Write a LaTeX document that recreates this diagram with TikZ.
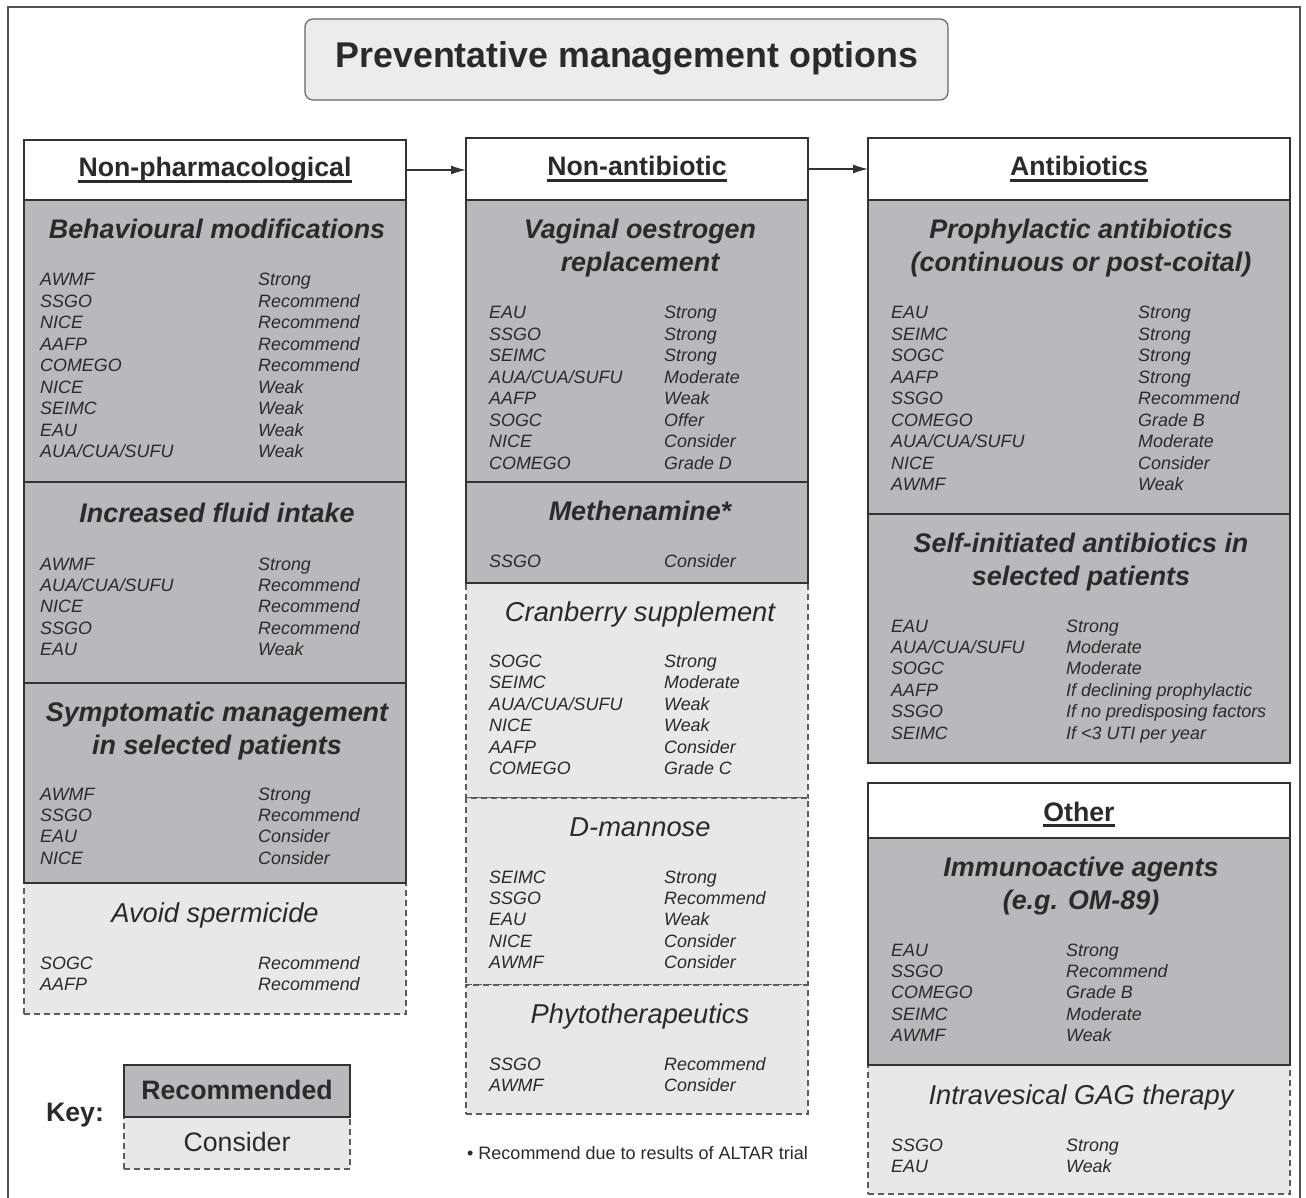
\documentclass[tikz,border=0pt]{standalone}
\usepackage{fontspec}
\setmainfont{Liberation Sans}
\usetikzlibrary{arrows.meta}
\definecolor{txt}{HTML}{2A2A2A}
\definecolor{ln}{HTML}{333333}
\definecolor{gfill}{HTML}{B9B9BB}
\definecolor{lfill}{HTML}{E8E8E9}
\definecolor{tfill}{HTML}{ECECEC}
\newcommand\entries[5]{\foreach \a/\b [count=\i] in {#5}{%
  \node[rowtxt] (#1l\i) at (#2,{#4+21.45*(\i-1)}) {\a};
  \node[rowtxt] (#1r\i) at (#3,{#4+21.45*(\i-1)}) {\b};}}
\begin{document}
\begin{tikzpicture}[x=1pt,y=-1pt,
 blk/.style={anchor=north west, inner sep=0, outer sep=0, draw=ln, line width=1.6pt},
 solidg/.style={blk, fill=gfill},
 hdrbox/.style={blk, fill=white},
 dashbox/.style={blk, fill=lfill, draw=ln!80, line width=1.1pt, dash pattern=on 6pt off 4pt},
 rowtxt/.style={anchor=base west, inner sep=0, text=txt, font=\fontsize{17.9}{20}\selectfont\itshape},
 sectb/.style={anchor=base, inner sep=0, text=txt, font=\fontsize{26.9}{30}\selectfont\bfseries\itshape},
 sectl/.style={anchor=base, inner sep=0, text=txt, font=\fontsize{27.3}{30}\selectfont\itshape},
 hdrtxt/.style={anchor=base, inner sep=0, text=txt, font=\fontsize{26.7}{30}\selectfont\bfseries},
 ul/.style={draw=txt, line width=2.4pt},
 arr/.style={draw=ln, line width=1.2pt, -{Latex[length=15pt,width=9pt]}}
]
\useasboundingbox (0,0) rectangle (1306,1198);
\fill[white] (0,0) rectangle (1306,1198);
% outer frame
\draw[ln!85, line width=1.3pt] (8,1198) -- (8,7) -- (1300,7) -- (1300,1198);

% title
\node[blk, draw=ln!75, line width=1.2pt, fill=tfill, rounded corners=8pt, minimum width=643pt, minimum height=81pt] (t0) at (305,19) {};
\node[anchor=base, inner sep=0, text=txt, font=\fontsize{35.8}{40}\selectfont\bfseries] (tt) at (627,68) {Preventative management options};

% ---------- column 1 ----------
\node[dashbox, minimum width=382pt, minimum height=131pt] (d1) at (24,883) {};
\node[hdrbox, minimum width=382pt, minimum height=60pt] (h1) at (24,140) {};
\node[solidg, minimum width=382pt, minimum height=282pt] (b1) at (24,200) {};
\node[solidg, minimum width=382pt, minimum height=201pt] (b2) at (24,482) {};
\node[solidg, minimum width=382pt, minimum height=200pt] (b3) at (24,683) {};

\node[hdrtxt] (h1t) at (215,177) {Non-pharmacological};
\draw[ul] ([yshift=-4.5pt]h1t.base west) -- ([yshift=-4.5pt]h1t.base east);

\node[sectb] (s1) at (217,238.5) {Behavioural modifications};
\entries{e1}{40}{258}{286}{AWMF/Strong, SSGO/Recommend, NICE/Recommend, AAFP/Recommend, COMEGO/Recommend, NICE/Weak, SEIMC/Weak, EAU/Weak, {AUA/CUA/SUFU}/Weak}

\node[sectb] (s2) at (217,522.5) {Increased fluid intake};
\entries{e2}{40}{258}{570}{AWMF/Strong, {AUA/CUA/SUFU}/Recommend, NICE/Recommend, SSGO/Recommend, EAU/Weak}

\node[sectb] (s3a) at (217,721.5) {Symptomatic management};
\node[sectb] (s3b) at (217,754) {in selected patients};
\entries{e3}{40}{258}{800}{AWMF/Strong, SSGO/Recommend, EAU/Consider, NICE/Consider}

\node[sectl] (s4) at (215,922) {Avoid spermicide};
\entries{e4}{40}{258}{969}{SOGC/Recommend, AAFP/Recommend}

% ---------- column 2 ----------
\node[dashbox, minimum width=342pt, minimum height=215pt] (d2) at (466,583) {};
\node[dashbox, minimum width=342pt, minimum height=187pt] (d3) at (466,798) {};
\node[dashbox, minimum width=342pt, minimum height=129pt] (d4) at (466,985) {};
\node[hdrbox, minimum width=342pt, minimum height=62pt] (h2) at (466,138) {};
\node[solidg, minimum width=342pt, minimum height=282pt] (b4) at (466,200) {};
\node[solidg, minimum width=342pt, minimum height=101pt] (b5) at (466,482) {};

\node[hdrtxt] (h2t) at (637,176) {Non-antibiotic};
\draw[ul] ([yshift=-4.5pt]h2t.base west) -- ([yshift=-4.5pt]h2t.base east);

\node[sectb] (s5a) at (640,238.5) {Vaginal oestrogen};
\node[sectb] (s5b) at (640,271.5) {replacement};
\entries{e5}{489}{664}{319}{EAU/Strong, SSGO/Strong, SEIMC/Strong, {AUA/CUA/SUFU}/Moderate, AAFP/Weak, SOGC/Offer, NICE/Consider, COMEGO/Grade D}

\node[sectb] (s6) at (640,520.5) {Methenamine*};
\entries{e6}{489}{664}{567}{SSGO/Consider}

\node[sectl] (s7) at (640,621) {Cranberry supplement};
\entries{e7}{489}{664}{667.5}{SOGC/Strong, SEIMC/Moderate, {AUA/CUA/SUFU}/Weak, NICE/Weak, AAFP/Consider, COMEGO/Grade C}

\node[sectl] (s8) at (640,836.5) {D-mannose};
\entries{e8}{489}{664}{883}{SEIMC/Strong, SSGO/Recommend, EAU/Weak, NICE/Consider, AWMF/Consider}

\node[sectl] (s9) at (640,1023.5) {Phytotherapeutics};
\entries{e9}{489}{664}{1070}{SSGO/Recommend, AWMF/Consider}

\node[anchor=base west, inner sep=0, text=txt, font=\fontsize{18}{20}\selectfont] (fn) at (467,1159) {• Recommend due to results of ALTAR trial};

% ---------- column 3 ----------
\node[hdrbox, minimum width=422pt, minimum height=62pt] (h3) at (868,138) {};
\node[solidg, minimum width=422pt, minimum height=314pt] (b6) at (868,200) {};
\node[solidg, minimum width=422pt, minimum height=249pt] (b7) at (868,514) {};

\node[hdrtxt] (h3t) at (1079,176) {Antibiotics};
\draw[ul] ([yshift=-4.5pt]h3t.base west) -- ([yshift=-4.5pt]h3t.base east);

\node[sectb] (s10a) at (1081,238.5) {Prophylactic antibiotics};
\node[sectb] (s10b) at (1081,271.5) {(continuous or post-coital)};
\entries{e10}{891}{1138}{319}{EAU/Strong, SEIMC/Strong, SOGC/Strong, AAFP/Strong, SSGO/Recommend, COMEGO/Grade B, {AUA/CUA/SUFU}/Moderate, NICE/Consider, AWMF/Weak}

\node[sectb] (s11a) at (1081,552.5) {Self-initiated antibiotics in};
\node[sectb] (s11b) at (1081,585.5) {selected patients};
\entries{e11}{891}{1066}{632}{EAU/Strong, {AUA/CUA/SUFU}/Moderate, SOGC/Moderate, AAFP/If declining prophylactic, SSGO/If no predisposing factors, SEIMC/If <3 UTI per year}

% ---------- other ----------
\node[dashbox, minimum width=422pt, minimum height=129pt] (d5) at (868,1065) {};
\node[hdrbox, minimum width=422pt, minimum height=55pt] (h4) at (868,783) {};
\node[solidg, minimum width=422pt, minimum height=227pt] (b8) at (868,838) {};

\node[hdrtxt] (h4t) at (1079,821) {Other};
\draw[ul] ([yshift=-4.5pt]h4t.base west) -- ([yshift=-4.5pt]h4t.base east);

\node[sectb] (s12a) at (1081,876.5) {Immunoactive agents};
\node[sectb] (s12b) at (1081,909.5) {(e.g. OM-89)};
\entries{e12}{891}{1066}{956}{EAU/Strong, SSGO/Recommend, COMEGO/Grade B, SEIMC/Moderate, AWMF/Weak}

\node[sectl] (s13) at (1081,1104) {Intravesical GAG therapy};
\entries{e13}{891}{1066}{1151}{SSGO/Strong, EAU/Weak}

% ---------- arrows ----------
\draw[arr] (h1.east) -- (h1.east -| h2.west);
\draw[arr] (h2.east) -- (h2.east -| h3.west);

% ---------- key ----------
\node[anchor=base, inner sep=0, text=txt, font=\fontsize{26.7}{30}\selectfont\bfseries] (keyt) at (75,1121.5) {Key:};
\node[dashbox, minimum width=226pt, minimum height=52pt] (k2) at (124,1117) {};
\node[solidg, minimum width=226pt, minimum height=52pt] (k1) at (124,1065) {};
\node[anchor=base, inner sep=0, text=txt, font=\fontsize{26.7}{30}\selectfont\bfseries] (k1t) at (237,1099.5) {Recommended};
\node[anchor=base, inner sep=0, text=txt, font=\fontsize{26.7}{30}\selectfont] (k2t) at (237,1151.5) {Consider};
\end{tikzpicture}
\end{document}
